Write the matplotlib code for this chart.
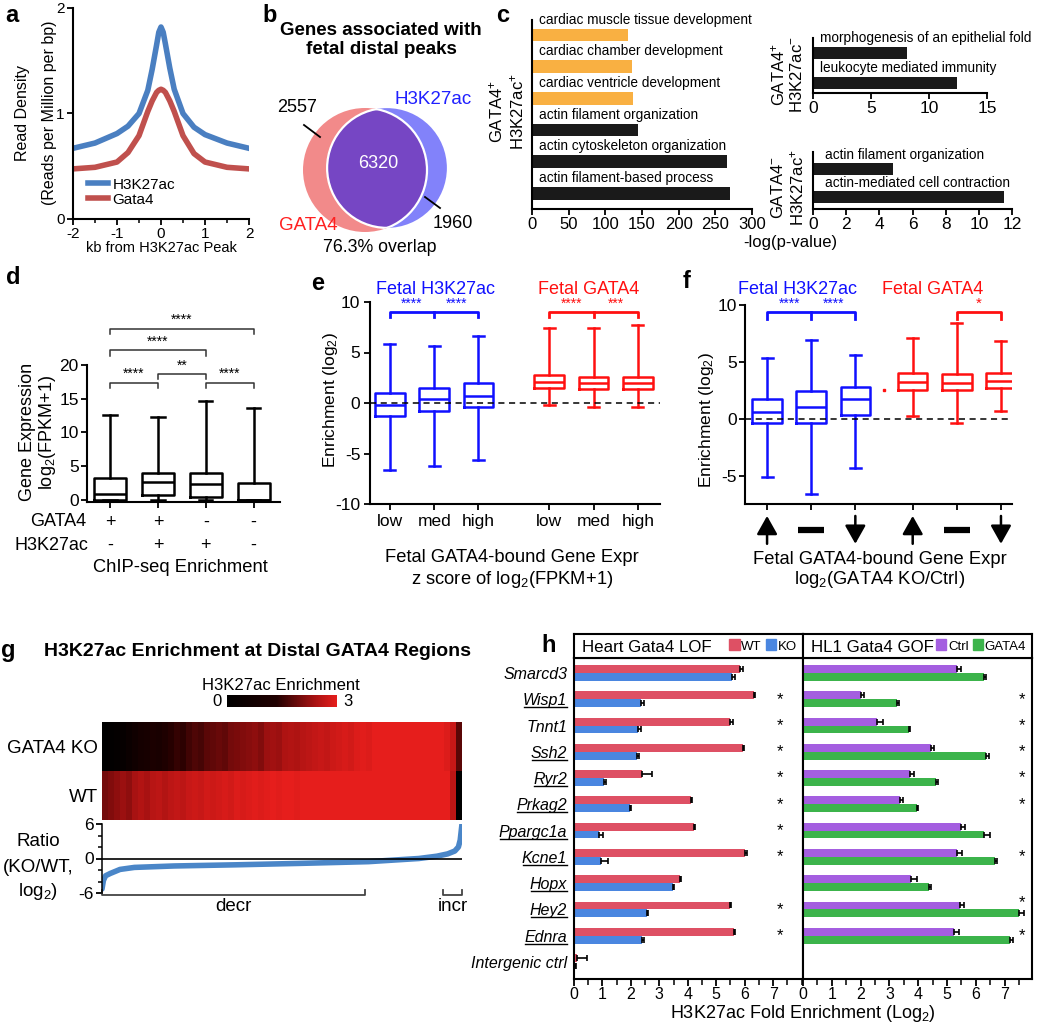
import numpy as np
import matplotlib
matplotlib.use("Agg")
import matplotlib.pyplot as plt
from matplotlib.patches import Circle, Patch
from matplotlib.colors import LinearSegmentedColormap, Normalize
from matplotlib.cm import ScalarMappable
from matplotlib.lines import Line2D
from matplotlib.ticker import MultipleLocator

# ── data ─────────────────────────────────────────────────────────────────────
# a: read density profile around H3K27ac peaks
prof_kb      = [-2, -1.5, -1, -0.75, -0.5, -0.3, -0.2, -0.1, -0.05, 0,
                0.05, 0.1, 0.2, 0.3, 0.5, 0.75, 1, 1.5, 2]
prof_h3k27ac = [0.67, 0.72, 0.81, 0.88, 1.0, 1.22, 1.42, 1.65, 1.77, 1.82,
                1.77, 1.66, 1.43, 1.23, 1.0, 0.87, 0.80, 0.72, 0.67]
prof_gata4   = [0.475, 0.49, 0.54, 0.63, 0.79, 1.02, 1.12, 1.20, 1.22, 1.23,
                1.22, 1.20, 1.12, 1.02, 0.79, 0.62, 0.54, 0.49, 0.475]

# b: venn counts
venn_gata4_only = 2557
venn_both       = 6320
venn_h3_only    = 1960

# c: GO terms
go_main_terms = ["cardiac muscle tissue development", "cardiac chamber development",
                 "cardiac ventricle development", "actin filament organization",
                 "actin cytoskeleton organization", "actin filament-based process"]
go_main_vals  = [131, 136, 138, 145, 266, 270]
go_main_heart = [True, True, True, False, False, False]
go_gp_hm_terms = ["morphogenesis of an epithelial fold", "leukocyte mediated immunity"]
go_gp_hm_vals  = [8.1, 12.4]
go_gm_hp_terms = ["actin filament organization", "actin-mediated cell contraction"]
go_gm_hp_vals  = [4.85, 11.5]

# d: expression by ChIP-seq class
d_gata4  = ["+", "+", "-", "-"]
d_h3     = ["-", "+", "+", "-"]
d_whislo = [0, 0, 0, 0]
d_q1     = [0, 0.8, 0.4, 0]
d_med    = [0.9, 2.7, 2.4, 0]
d_q3     = [3.2, 4.0, 4.0, 2.5]
d_whishi = [12.6, 12.3, 14.6, 13.7]
d_pairs  = [(1, 2), (2, 3), (3, 4), (1, 3), (1, 4)]
d_stars  = ["****", "**", "****", "****", "****"]

# e: enrichment by expression z-score
e_labels    = ["low", "med", "high"]
e_h3_lo     = [-6.6, -6.2, -5.6]
e_h3_q1     = [-1.3, -0.75, -0.4]
e_h3_med    = [-0.2, 0.4, 0.7]
e_h3_q3     = [1.0, 1.5, 2.0]
e_h3_hi     = [5.8, 5.6, 6.6]
e_g4_lo     = [-0.2, -0.4, -0.4]
e_g4_q1     = [1.5, 1.4, 1.4]
e_g4_med    = [2.1, 2.0, 2.0]
e_g4_q3     = [2.8, 2.6, 2.6]
e_g4_hi     = [7.4, 7.4, 7.7]
e_h3_stars  = ["****", "****"]
e_g4_stars  = ["****", "***"]

# f: enrichment by KO/Ctrl expression change
f_dirs      = ["up", "flat", "down"]
f_h3_lo     = [-5.1, -6.6, -4.3]
f_h3_q1     = [-0.4, -0.4, 0.3]
f_h3_med    = [0.6, 1.0, 1.7]
f_h3_q3     = [1.75, 2.4, 2.8]
f_h3_hi     = [5.3, 6.9, 5.6]
f_g4_lo     = [0.25, -0.4, 0.7]
f_g4_q1     = [2.5, 2.5, 2.7]
f_g4_med    = [3.2, 3.1, 3.3]
f_g4_q3     = [4.0, 3.9, 4.0]
f_g4_hi     = [7.1, 8.4, 6.8]
f_stray_x   = [3.65]
f_stray_y   = [2.5]

# g: heatmap columns (sorted by KO/WT ratio) and ratio curve
g_ko = [0.0, 0.1, 0.2, 0.3, 0.5, 0.7, 0.9, 1.0, 1.15, 1.1, 1.3, 1.4,
        1.5, 1.45, 1.6, 1.7, 1.65, 1.8, 1.85, 1.9, 1.85, 2.0, 2.05, 2.1,
        2.15, 2.2, 2.1, 2.3, 2.35, 2.3, 2.45, 2.5, 2.45, 2.55, 2.6, 2.65,
        2.7, 2.65, 2.75, 2.8, 2.85, 2.8, 2.9, 2.95, 2.9, 3.0, 3.0, 3.0,
        3.0, 3.0, 3.0, 3.0, 3.0, 3.0, 3.0, 3.0, 3.0, 2.9, 2.7, 1.8]
g_wt = [2.0, 2.1, 2.2, 2.3, 2.2, 2.4, 2.5, 2.4, 2.55, 2.6, 2.5, 2.6,
        2.65, 2.6, 2.7, 2.75, 2.7, 2.8, 2.75, 2.8, 2.85, 2.8, 2.9, 2.85,
        2.9, 2.95, 2.9, 2.95, 3.0, 2.95, 3.0, 3.0, 2.95, 3.0, 3.0, 3.0,
        3.0, 3.0, 3.0, 3.0, 3.0, 3.0, 3.0, 3.0, 3.0, 3.0, 3.0, 3.0,
        3.0, 3.0, 3.0, 3.0, 3.0, 3.0, 3.0, 3.0, 3.0, 3.0, 2.6, 0.0]
ratio_rank = [0, 0.004, 0.01, 0.023, 0.05, 0.09, 0.2, 0.37, 0.55, 0.74,
              0.88, 0.93, 0.96, 0.98, 0.99, 0.995, 1.0]
ratio_val  = [-5.3, -3.8, -3.0, -2.6, -1.9, -1.55, -1.3, -1.1, -0.85, -0.55,
              0.0, 0.4, 0.8, 1.3, 2.0, 3.2, 6.0]
decr_span = (0.0, 0.73)
incr_span = (0.947, 1.0)

# h: H3K27ac ChIP-qPCR
h_genes = ["Smarcd3", "Wisp1", "Tnnt1", "Ssh2", "Ryr2", "Prkag2", "Ppargc1a",
           "Kcne1", "Hopx", "Hey2", "Ednra", "Intergenic ctrl"]
h_underline = [False, True, False, True, True, True, True, True, True, True, True, False]
h_wt      = [5.83, 6.33, 5.5, 5.95, 2.4, 4.1, 4.22, 6.02, 3.73, 5.5, 5.63, 0.1]
h_wt_err  = [0.12, 0.05, 0.1, 0.02, 0.35, 0.05, 0.02, 0.05, 0.03, 0.02, 0.04, 0.35]
h_ko      = [5.55, 2.35, 2.26, 2.22, 1.07, 1.97, 0.87, 0.95, 3.47, 2.57, 2.38, 0.02]
h_ko_err  = [0.1, 0.1, 0.1, 0.08, 0.05, 0.02, 0.15, 0.25, 0.05, 0.02, 0.08, 0.05]
h_lof_sig = [False, True, True, True, True, True, True, True, False, True, True, False]
h_ctrl     = [5.36, 2.0, 2.58, 4.46, 3.72, 3.38, 5.48, 5.36, 3.75, 5.44, 5.25, 0]
h_ctrl_err = [0.12, 0.12, 0.2, 0.1, 0.12, 0.1, 0.15, 0.15, 0.2, 0.15, 0.15, 0]
h_gof      = [6.3, 3.25, 3.68, 6.37, 4.6, 3.97, 6.28, 6.67, 4.37, 7.5, 7.2, 0]
h_gof_err  = [0.05, 0.08, 0.02, 0.1, 0.08, 0.02, 0.2, 0.05, 0.08, 0.18, 0.1, 0]
h_gof_sig  = [False, True, True, True, True, True, False, True, False, True, True, False]

# ── style ────────────────────────────────────────────────────────────────────
plt.rcParams["font.family"] = ["Liberation Sans", "DejaVu Sans"]
plt.rcParams["mathtext.fontset"] = "custom"
plt.rcParams["mathtext.rm"] = "Liberation Sans"
plt.rcParams["mathtext.it"] = "Liberation Sans:italic"
plt.rcParams["mathtext.bf"] = "Liberation Sans:bold"
plt.rcParams["axes.unicode_minus"] = False
plt.rcParams["axes.linewidth"] = 1.5
plt.rcParams["xtick.major.width"] = 1.3
plt.rcParams["ytick.major.width"] = 1.3
plt.rcParams["xtick.minor.width"] = 1.1
plt.rcParams["ytick.minor.width"] = 1.1
plt.rcParams["xtick.major.size"] = 4
plt.rcParams["ytick.major.size"] = 4
plt.rcParams["xtick.minor.size"] = 3
plt.rcParams["ytick.minor.size"] = 3

BLUE_A = "#4a7fc1"
RED_A  = "#c0504d"
ORANGE = "#f9b042"
BAR_K  = "#1a1a1a"
BLUE   = "#1010ff"
RED    = "#ff1010"
WT_C, KO_C, CTRL_C, GOF_C = "#de5064", "#4a86e0", "#a45ee0", "#3cb44b"

W, H = 1050, 1030
fig = plt.figure(figsize=(W / 100, H / 100), dpi=100)


def add_ax(x0, y0, x1, y1):
    return fig.add_axes([x0 / W, 1 - y1 / H, (x1 - x0) / W, (y1 - y0) / H])


def ftext(x, y, s, **kw):
    kw.setdefault("ha", "center")
    kw.setdefault("va", "center")
    return fig.text(x / W, 1 - y / H, s, **kw)


def clean(ax):
    ax.spines[["top", "right"]].set_visible(False)


def bracket(ax, x0, x1, y, drop, color="k", mid=None, lw=1.3):
    ax.plot([x0, x0, x1, x1], [y - drop, y, y, y - drop], color=color, lw=lw, clip_on=False)
    if mid is not None:
        ax.plot([mid, mid], [y, y - drop], color=color, lw=lw, clip_on=False)


def boxes(ax, lo, q1, med, q3, hi, pos, color, width=0.67, capw=0.25, lw=1.8):
    stats = [dict(whislo=a, q1=b, med=c, q3=d, whishi=e)
             for a, b, c, d, e in zip(lo, q1, med, q3, hi)]
    props = dict(color=color, lw=lw)
    ax.bxp(stats, positions=pos, widths=width, showfliers=False, capwidths=capw,
           boxprops=props, whiskerprops=props, capprops=props, medianprops=props,
           manage_ticks=False)


# panel letters
for lab, (x, y) in {"a": (12, 16), "b": (270, 15), "c": (503, 15), "d": (13, 277),
                    "e": (318, 283), "f": (687, 282), "g": (8, 650), "h": (549, 645)}.items():
    ftext(x, y, lab, fontsize=17, fontweight="bold")

# ── a ────────────────────────────────────────────────────────────────────────
ax = add_ax(73, 8, 249, 219)
ax.plot(prof_kb, prof_h3k27ac, color=BLUE_A, lw=4, label="H3K27ac")
ax.plot(prof_kb, prof_gata4, color=RED_A, lw=4, label="Gata4")
ax.set_xlim(-2, 2)
ax.set_ylim(0, 2)
ax.set_xticks([-2, -1, 0, 1, 2])
ax.xaxis.set_minor_locator(MultipleLocator(0.5))
ax.set_yticks([0, 1, 2])
clean(ax)
ax.tick_params(labelsize=11, pad=2)
ax.legend(loc="lower left", bbox_to_anchor=(0.05, 0.03), frameon=False, fontsize=11,
          handlelength=1.3, handletextpad=0.3, labelspacing=0.05, borderaxespad=0)
ftext(161, 248, "kb from H3K27ac Peak", fontsize=10.5)
ftext(23, 113, "Read Density", fontsize=11.5, rotation=90)
ftext(50, 113, "(Reads per Million per bp)", fontsize=11.5, rotation=90)

# ── b ────────────────────────────────────────────────────────────────────────
ftext(381, 40, "Genes associated with\nfetal distal peaks", fontsize=13.5,
      fontweight="bold", linespacing=1.1)
axv = add_ax(290, 100, 460, 240)
axv.set_xlim(-75, 95)
axv.set_ylim(-70, 70)
axv.set_aspect("equal")
axv.axis("off")
r_g = 62.0
r_h = r_g * np.sqrt((venn_h3_only + venn_both) / (venn_gata4_only + venn_both))
c_h = 22.0
red_c = Circle((0, 0), r_g, fc="#f28a8a", ec="none")
blue_c = Circle((c_h, 2), r_h, fc="#8282fa", ec="none")
axv.add_patch(red_c)
axv.add_patch(blue_c)
lens = Circle((c_h, 2), r_h, fc="#7646c4", ec="white", lw=1.6)
axv.add_patch(lens)
lens.set_clip_path(red_c)
arc = Circle((0, 0), r_g, fc="none", ec="white", lw=1.6)
axv.add_patch(arc)
arc.set_clip_path(blue_c)
axv.text(13, 7, f"{venn_both}", color="white", fontsize=13, ha="center", va="center")
axv.text(-68, 63, f"{venn_gata4_only}", fontsize=13, ha="center", va="center")
axv.plot([-61, -45], [45, 33], color="k", lw=1.3, clip_on=False)
axv.text(88, -53, f"{venn_h3_only}", fontsize=13, ha="center", va="center", clip_on=False)
axv.plot([60, 75], [-27, -38], color="k", lw=1.3, clip_on=False)
axv.text(68, 70, "H3K27ac", color="#2020ff", fontsize=13.5, ha="center", va="center", clip_on=False)
axv.text(-57, -55, "GATA4", color="#ff2020", fontsize=13.5, ha="center", va="center", clip_on=False)
pct = 100.0 * venn_both / (venn_both + venn_h3_only)
ftext(380, 248, f"{pct:.1f}% overlap", fontsize=12.8)

# ── c ────────────────────────────────────────────────────────────────────────
axc = add_ax(532, 20, 752, 209)
ypos = np.arange(len(go_main_terms))
axc.barh(ypos, go_main_vals, height=0.4,
         color=[ORANGE if h else BAR_K for h in go_main_heart])
for y, t in zip(ypos, go_main_terms):
    axc.text(9, y - 0.48, t, fontsize=9.8, va="center", ha="left")
axc.set_ylim(5.5, -0.47)
axc.set_xlim(0, 300)
axc.set_xticks(np.arange(0, 301, 50))
axc.set_yticks([])
clean(axc)
axc.tick_params(labelsize=12, pad=2)
ftext(496, 112, "GATA4$^{+}$", fontsize=12, rotation=90)
ftext(517, 112, "H3K27ac$^{+}$", fontsize=12, rotation=90)

axc2 = add_ax(813, 38, 987, 93)
yp = np.arange(2)
axc2.barh(yp, go_gp_hm_vals, height=0.42, color=BAR_K)
for y, t in zip(yp, go_gp_hm_terms):
    axc2.text(0.6, y - 0.5, t, fontsize=9.8, va="center", ha="left")
axc2.set_ylim(1.33, -0.5)
axc2.set_xlim(0, 15)
axc2.set_xticks([0, 5, 10, 15])
axc2.set_yticks([])
clean(axc2)
axc2.tick_params(labelsize=12.5, pad=2)
ftext(778, 75, "GATA4$^{+}$", fontsize=12, rotation=90)
ftext(797, 75, "H3K27ac$^{-}$", fontsize=12, rotation=90)

axc3 = add_ax(813, 152, 1012, 209)
axc3.barh(yp, go_gm_hp_vals, height=0.42, color=BAR_K)
for y, t in zip(yp, go_gm_hp_terms):
    axc3.text(0.7, y - 0.5, t, fontsize=9.8, va="center", ha="left")
axc3.set_ylim(1.43, -0.6)
axc3.set_xlim(0, 12)
axc3.set_xticks(np.arange(0, 13, 2))
axc3.set_yticks([])
clean(axc3)
axc3.tick_params(labelsize=12.5, pad=2)
ftext(778, 188, "GATA4$^{-}$", fontsize=12, rotation=90)
ftext(797, 188, "H3K27ac$^{+}$", fontsize=12, rotation=90)
ftext(790, 243, "-log(p-value)", fontsize=12)

# ── d ────────────────────────────────────────────────────────────────────────
axd = add_ax(87, 365, 280, 502)
d_pos = np.arange(1, 5)
boxes(axd, d_whislo, d_q1, d_med, d_q3, d_whishi, d_pos, "k", capw=0.28)
axd.set_xlim(0.52, 4.55)
axd.set_ylim(-0.3, 20)
axd.set_yticks([0, 5, 10, 15, 20])
axd.set_xticks(d_pos)
axd.set_xticklabels([])
clean(axd)
axd.tick_params(labelsize=12.5, pad=2)
d_levels = [17.4, 18.7, 17.4, 22.2, 25.4]
for (i, j), s, lv in zip(d_pairs, d_stars, d_levels):
    bracket(axd, i, j, lv, 0.8, color="#333333", lw=1.1)
    axd.text((i + j) / 2, lv + 0.2, s, ha="center", va="bottom", fontsize=10, clip_on=False)
tr = axd.get_xaxis_transform()
for x, g, h3 in zip(d_pos, d_gata4, d_h3):
    axd.text(x, -0.15, g, transform=tr, ha="center", va="center", fontsize=13)
    axd.text(x, -0.315, h3, transform=tr, ha="center", va="center", fontsize=13)
ftext(86, 522, "GATA4", fontsize=13, ha="right")
ftext(88, 545, "H3K27ac", fontsize=13, ha="right")
ftext(180, 567, "ChIP-seq Enrichment", fontsize=13.2)
ftext(27, 432, "Gene Expression", fontsize=13, rotation=90)
ftext(48, 432, "log$_2$(FPKM+1)", fontsize=13, rotation=90)

# ── e ────────────────────────────────────────────────────────────────────────
axe = add_ax(370, 302, 660, 504)
e_pos_h3 = [1, 2, 3]
e_pos_g4 = [4.6, 5.6, 6.6]
boxes(axe, e_h3_lo, e_h3_q1, e_h3_med, e_h3_q3, e_h3_hi, e_pos_h3, BLUE)
boxes(axe, e_g4_lo, e_g4_q1, e_g4_med, e_g4_q3, e_g4_hi, e_pos_g4, RED)
axe.axhline(0, color="k", ls=(0, (4, 3)), lw=1.1)
axe.set_xlim(0.55, 7.1)
axe.set_ylim(-10, 10)
axe.set_yticks([-10, -5, 0, 5, 10])
axe.set_xticks(e_pos_h3 + e_pos_g4)
axe.set_xticklabels(e_labels * 2)
clean(axe)
axe.tick_params(labelsize=12.5, pad=3)
for pos, stars, col in [(e_pos_h3, e_h3_stars, BLUE), (e_pos_g4, e_g4_stars, RED)]:
    bracket(axe, pos[0], pos[2], 9.0, 0.5, color=col, mid=pos[1], lw=2)
    for k, s in enumerate(stars):
        axe.text((pos[k] + pos[k + 1]) / 2, 9.1, s, color=col, ha="center",
                 va="bottom", fontsize=10, clip_on=False)
ftext(435, 289, "Fetal H3K27ac", color=BLUE, fontsize=13)
ftext(589, 289, "Fetal GATA4", color=RED, fontsize=13)
ftext(330, 400, "Enrichment (log$_2$)", fontsize=12.5, rotation=90)
ftext(512, 558, "Fetal GATA4-bound Gene Expr", fontsize=13.2)
ftext(512, 580, "z score of log$_2$(FPKM+1)", fontsize=13.2)

# ── f ────────────────────────────────────────────────────────────────────────
axf = add_ax(745, 305, 1012, 504)
f_pos_h3 = [1, 2, 3]
f_pos_g4 = [4.3, 5.3, 6.3]
boxes(axf, f_h3_lo, f_h3_q1, f_h3_med, f_h3_q3, f_h3_hi, f_pos_h3, BLUE)
boxes(axf, f_g4_lo, f_g4_q1, f_g4_med, f_g4_q3, f_g4_hi, f_pos_g4, RED)
axf.plot(f_stray_x, f_stray_y, "s", color=RED, ms=2)
axf.axhline(0, color="k", ls=(0, (4, 3)), lw=1.1)
axf.set_xlim(0.5, 6.55)
axf.set_ylim(-7.5, 10)
axf.set_yticks([-5, 0, 5, 10])
axf.set_xticks(f_pos_h3 + f_pos_g4)
axf.set_xticklabels([])
clean(axf)
axf.tick_params(labelsize=12.5, pad=2)
bracket(axf, f_pos_h3[0], f_pos_h3[2], 9.4, 0.6, color=BLUE, mid=f_pos_h3[1], lw=2)
for k in range(2):
    axf.text((f_pos_h3[k] + f_pos_h3[k + 1]) / 2, 9.5, "****", color=BLUE,
             ha="center", va="bottom", fontsize=10, clip_on=False)
bracket(axf, f_pos_g4[1], f_pos_g4[2], 9.4, 0.6, color=RED, lw=2)
axf.text((f_pos_g4[1] + f_pos_g4[2]) / 2, 9.5, "*", color=RED, ha="center",
         va="bottom", fontsize=11, clip_on=False)
tr = axf.get_xaxis_transform()
for x, kind in zip(f_pos_h3 + f_pos_g4, f_dirs * 2):
    if kind == "flat":
        axf.plot([x - 0.3, x + 0.3], [-0.13, -0.13], transform=tr, color="k",
                 lw=4.5, solid_capstyle="butt", clip_on=False)
    else:
        y0, y1 = (-0.2, -0.06) if kind == "up" else (-0.06, -0.2)
        axf.annotate("", xy=(x, y1), xytext=(x, y0), xycoords=tr, textcoords=tr,
                     annotation_clip=False,
                     arrowprops=dict(arrowstyle="-|>,head_width=0.45,head_length=0.8",
                                     lw=1.8, color="k", mutation_scale=14,
                                     shrinkA=0, shrinkB=0))
ftext(797, 289, "Fetal H3K27ac", color=BLUE, fontsize=13)
ftext(933, 289, "Fetal GATA4", color=RED, fontsize=13)
ftext(706, 420, "Enrichment (log$_2$)", fontsize=12.5, rotation=90)
ftext(880, 559, "Fetal GATA4-bound Gene Expr", fontsize=13.2)
ftext(880, 580, "log$_2$(GATA4 KO/Ctrl)", fontsize=13.2)

# ── g ────────────────────────────────────────────────────────────────────────
ftext(257, 652, "H3K27ac Enrichment at Distal GATA4 Regions", fontsize=14,
      fontweight="bold")
heat_cmap = LinearSegmentedColormap.from_list(
    "kr", [(0, "#000000"), (0.45, "#200000"), (0.8, "#a81212"), (1, "#e61e1c")])
cax = add_ax(227, 695, 337, 707)
cb = fig.colorbar(ScalarMappable(Normalize(0, 3), heat_cmap), cax=cax,
                  orientation="horizontal")
cb.outline.set_visible(False)
cb.set_ticks([])
ftext(217, 701, "0", fontsize=12)
ftext(348, 701, "3", fontsize=12)
ftext(281, 685, "H3K27ac Enrichment", fontsize=12)

axh = add_ax(102, 722, 462, 820)
axh.imshow(np.array([g_ko, g_wt]), aspect="auto", cmap=heat_cmap, vmin=0, vmax=3,
           interpolation="nearest")
axh.set_xticks([])
axh.set_yticks([0, 1])
axh.set_yticklabels(["GATA4 KO", "WT"], fontsize=13.5)
axh.tick_params(axis="y", length=0, pad=3)
for sp in axh.spines.values():
    sp.set_visible(False)

axr = add_ax(102, 824, 462, 893)
axr.plot(ratio_rank, ratio_val, color="#4a86c8", lw=4, solid_capstyle="round")
axr.axhline(0, color="k", lw=1.2)
axr.set_xlim(0, 1)
axr.set_ylim(-6, 6)
axr.set_yticks([-6, 0, 6])
axr.yaxis.set_minor_locator(MultipleLocator(2))
axr.set_xticks([])
for s in ["top", "right", "bottom"]:
    axr.spines[s].set_visible(False)
axr.spines["left"].set_linewidth(1.1)
axr.tick_params(labelsize=12.5, pad=2)
tr = axr.get_xaxis_transform()
for (a, b), lab in [(decr_span, "decr"), (incr_span, "incr")]:
    axr.plot([a, a, b, b], [0.04, -0.03, -0.03, 0.04], transform=tr, color="#444444",
             lw=1.3, clip_on=False)
    axr.text((a + b) / 2, -0.2, lab, transform=tr, ha="center", va="center", fontsize=13.5)
ftext(38, 842, "Ratio", fontsize=13.5)
ftext(38, 867, "(KO/WT,", fontsize=13.5)
ftext(38, 891, "log$_2$)", fontsize=13.5)

# ── h ────────────────────────────────────────────────────────────────────────
rows = np.arange(len(h_genes))
zeros = np.zeros(len(h_genes))
bh = 0.3
axL = add_ax(574, 658, 803, 979)
axR = add_ax(803, 658, 1032, 979)
for axx, v1, e1, v2, e2, c1, c2, sig, xmax, sx in [
        (axL, h_wt, h_wt_err, h_ko, h_ko_err, WT_C, KO_C, h_lof_sig, 8.05, 7.25),
        (axR, h_ctrl, h_ctrl_err, h_gof, h_gof_err, CTRL_C, GOF_C, h_gof_sig, 7.95, 7.6)]:
    axx.barh(rows - bh / 2, v1, height=bh, color=c1)
    axx.barh(rows + bh / 2, v2, height=bh, color=c2)
    axx.errorbar(v1, rows - bh / 2, xerr=[zeros, e1], fmt="none", ecolor="k",
                 elinewidth=1.2, capsize=2.5, capthick=1.2)
    axx.errorbar(v2, rows + bh / 2, xerr=[zeros, e2], fmt="none", ecolor="k",
                 elinewidth=1.2, capsize=2.5, capthick=1.2)
    for r, s in zip(rows, sig):
        if s:
            yy = r - 0.25 if (axx is axR and h_genes[r] == "Hey2") else r
            axx.text(sx, yy, "*", ha="center", va="center", fontsize=12)
    axx.set_xlim(0, xmax)
    axx.set_ylim(len(h_genes) - 0.35, -0.57)
    axx.set_xticks(np.arange(0, 8))
    axx.xaxis.set_minor_locator(MultipleLocator(0.5))
    axx.tick_params(axis="x", labelsize=11.5, pad=1, length=5)
    axx.tick_params(axis="x", which="minor", length=4)
axL.set_yticks(rows)
axL.set_yticklabels(h_genes, style="italic", fontsize=11.5)
axL.tick_params(axis="y", length=0, pad=5)
axR.set_yticks([])

for x0, x1, title, labs, cols in [
        (574, 803, "Heart Gata4 LOF", ["WT", "KO"], [WT_C, KO_C]),
        (803, 1032, "HL1 Gata4 GOF", ["Ctrl", "GATA4"], [CTRL_C, GOF_C])]:
    hd = add_ax(x0, 634, x1, 658)
    hd.set_xticks([])
    hd.set_yticks([])
    hd.text(0.035, 0.45, title, transform=hd.transAxes, fontsize=12.2, va="center")
    hd.legend([Patch(color=c) for c in cols], labs, loc="center right", ncol=2,
              frameon=False, fontsize=9.5, handlelength=0.8, handleheight=0.9,
              handletextpad=0.12, columnspacing=0.3, borderaxespad=0.05)
ftext(803, 1013, "H3K27ac Fold Enrichment (Log$_2$)", fontsize=13)

# underline the gene names that are direct targets
fig.canvas.draw()
inv = fig.transFigure.inverted()
for lbl, ul in zip(axL.get_yticklabels(), h_underline):
    if ul:
        bb = lbl.get_window_extent()
        (fx0, fy), (fx1, _) = inv.transform([(bb.x0 + 1, bb.y0 + 1), (bb.x1, bb.y0)])
        fig.add_artist(Line2D([fx0, fx1], [fy, fy], color="k", lw=1.0,
                              transform=fig.transFigure))

fig.savefig("out.png", dpi=100)
